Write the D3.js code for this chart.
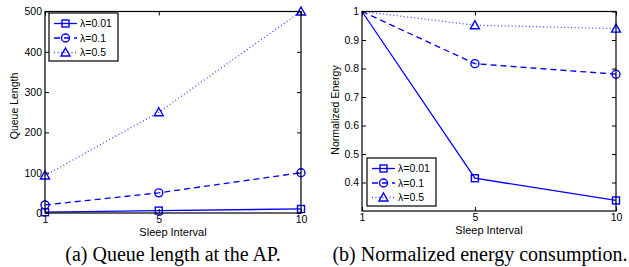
<!DOCTYPE html>
<html>
<head>
<meta charset="utf-8">
<script src="https://cdn.jsdelivr.net/npm/d3@7"></script>
<style>
  body { margin: 0; background: #fff; }
  svg text { font-family: "Liberation Sans", Arial, sans-serif; }
  .caption { font-family: "Liberation Serif", "Times New Roman", serif; }
</style>
</head>
<body>
<svg id="chart"></svg>
<script>
const width = 629;
const height = 267;

// data
const sleepIntervals = [1, 5, 10];
const seriesNames = ['λ=0.01', 'λ=0.1', 'λ=0.5'];
const queueLength = [
  [2, 6, 10],
  [20, 50, 100],
  [93, 250, 500]
];
const normEnergy = [
  [1, 0.415, 0.337],
  [1, 0.817, 0.78],
  [1, 0.952, 0.94]
];
const queueTicks = [0, 100, 200, 300, 400, 500];
const energyTicks = [0.4, 0.5, 0.6, 0.7, 0.8, 0.9, 1];

const blue = '#0000ff';
const styles = [
  { dash: null, marker: 'square', opacity: 1 },
  { dash: '6,4', marker: 'circle', opacity: 1 },
  { dash: '1,2.5', marker: 'triangle', opacity: 0.75 }
];

const svg = d3.select('#chart')
  .attr('width', width)
  .attr('height', height);

const drawMarker = (g, type, x, y) => {
  if (type === 'square') {
    g.append('rect')
      .attr('x', x - 3.5).attr('y', y - 3.5)
      .attr('width', 7).attr('height', 7)
      .attr('fill', 'none').attr('stroke', blue).attr('stroke-width', 1.4);
  } else if (type === 'circle') {
    g.append('circle')
      .attr('cx', x).attr('cy', y).attr('r', 4)
      .attr('fill', 'none').attr('stroke', blue).attr('stroke-width', 1.4);
  } else {
    g.append('path')
      .attr('d', `M${x},${y - 4.5}L${x + 4.5},${y + 3.5}L${x - 4.5},${y + 3.5}Z`)
      .attr('fill', 'none').attr('stroke', blue).attr('stroke-width', 1.4);
  }
};

const panel = (opt) => {
  const { left, right, top, bottom, domain, ticks, values } = opt;
  const x = d3.scaleLinear().domain([1, 10]).range([left, right]);
  const y = d3.scaleLinear().domain(domain).range([bottom, top]);
  const g = svg.append('g');

  // lines
  const line = d3.line().x((d, i) => x(sleepIntervals[i])).y(d => y(d));
  values.forEach((vals, si) => {
    g.append('path')
      .attr('d', line(vals))
      .attr('fill', 'none')
      .attr('stroke', blue)
      .attr('stroke-width', 1.3)
      .attr('stroke-opacity', styles[si].opacity)
      .attr('stroke-dasharray', styles[si].dash);
    // markers sitting on the top limit are clipped in the original figure
    vals.forEach((v, i) => {
      if (v < domain[1] || !opt.clipTop) drawMarker(g, styles[si].marker, x(sleepIntervals[i]), y(v));
    });
  });

  // box
  g.append('rect')
    .attr('x', left).attr('y', top)
    .attr('width', right - left).attr('height', bottom - top)
    .attr('fill', 'none').attr('stroke', '#000').attr('stroke-width', 1.2);

  // axes, ticks inward and mirrored
  const axL = d3.axisLeft(y).tickValues(ticks).tickSize(-4).tickPadding(3).tickFormat(opt.tickFmt);
  const axR = d3.axisRight(y).tickValues(ticks).tickSize(-4).tickFormat('');
  const axB = d3.axisBottom(x).tickValues(sleepIntervals).tickSize(-4).tickPadding(3);
  const axT = d3.axisTop(x).tickValues(sleepIntervals).tickSize(-4).tickFormat('');
  [
    [axL, `translate(${left},0)`],
    [axR, `translate(${right},0)`],
    [axB, `translate(0,${bottom})`],
    [axT, `translate(0,${top})`]
  ].forEach(([ax, tr]) => {
    const a = g.append('g').attr('transform', tr).call(ax);
    a.select('.domain').remove();
    a.selectAll('line').attr('stroke', '#000').attr('stroke-width', 1);
    a.selectAll('text').attr('font-size', 10.5).attr('fill', '#000')
      .attr('font-family', '"Liberation Sans", Arial, sans-serif');
  });

  // labels
  g.append('text')
    .attr('x', (left + right) / 2).attr('y', bottom + 23)
    .attr('text-anchor', 'middle').attr('font-size', 11)
    .text('Sleep Interval');
  g.append('text')
    .attr('transform', `translate(${opt.yLabelX},${opt.yLabelY}) rotate(-90)`)
    .attr('text-anchor', 'middle').attr('font-size', 10.5)
    .text(opt.yLabel);

  // legend
  const lg = g.append('g').attr('transform', `translate(${opt.legendPos[0]},${opt.legendPos[1]})`);
  lg.append('rect')
    .attr('width', 69).attr('height', 48)
    .attr('fill', '#fff').attr('stroke', '#000').attr('stroke-width', 1.2);
  seriesNames.forEach((name, si) => {
    const yy = 10.5 + si * 14.5;
    lg.append('line')
      .attr('x1', 5).attr('x2', 28).attr('y1', yy).attr('y2', yy)
      .attr('stroke', blue).attr('stroke-width', 1.3)
      .attr('stroke-opacity', styles[si].opacity)
      .attr('stroke-dasharray', styles[si].dash);
    drawMarker(lg, styles[si].marker, 16.5, yy);
    lg.append('text')
      .attr('x', 31).attr('y', yy + 3.7)
      .attr('font-size', 10.5).text(name);
  });

  // caption
  svg.append('text')
    .attr('class', 'caption')
    .attr('x', opt.captionX).attr('y', 261)
    .attr('text-anchor', 'middle').attr('font-size', 20)
    .text(opt.caption);
};

panel({
  left: 45, right: 301, top: 11.5, bottom: 213,
  domain: [0, 500], ticks: queueTicks, values: queueLength,
  yLabel: 'Queue Length', tickFmt: d3.format('d'),
  yLabelX: 18, yLabelY: 106,
  legendPos: [49, 13], clipTop: false,
  caption: '(a) Queue length at the AP.', captionX: 173
});

panel({
  left: 362, right: 616, top: 11.5, bottom: 211,
  domain: [0.3, 1], ticks: energyTicks, values: normEnergy,
  yLabel: 'Normalized Energy', tickFmt: d => d === 1 ? '1' : d3.format('.1f')(d),
  yLabelX: 339, yLabelY: 110,
  legendPos: [367, 158], clipTop: true,
  caption: '(b) Normalized energy consumption.', captionX: 480
});
</script>
</body>
</html>
